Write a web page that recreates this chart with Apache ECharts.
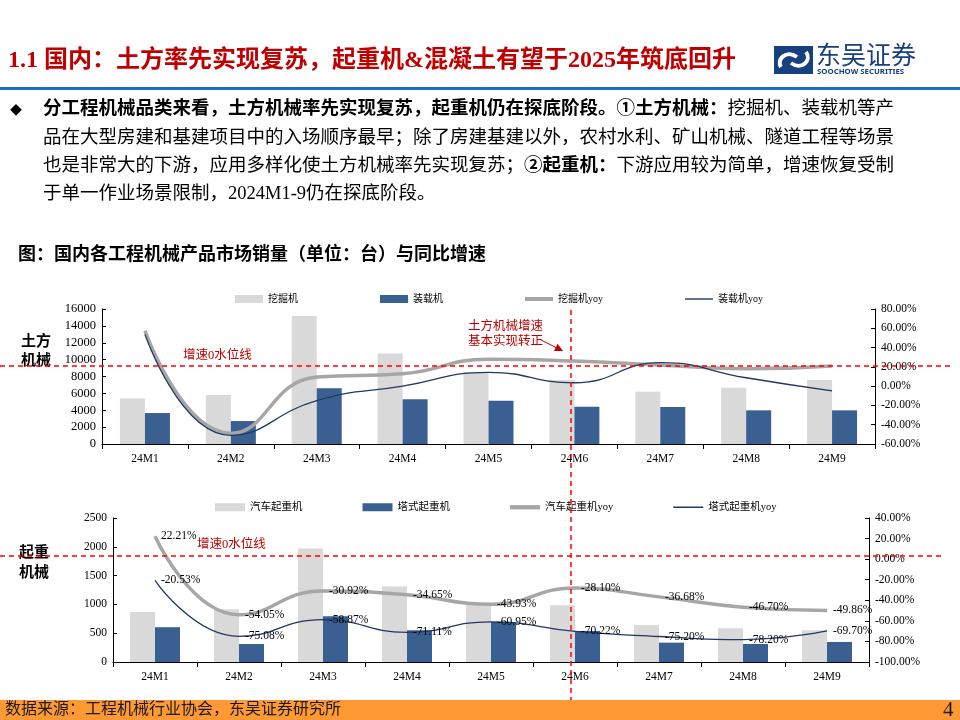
<!DOCTYPE html>
<html>
<head>
<meta charset="utf-8">
<script src="https://cdn.jsdelivr.net/npm/echarts@6/dist/echarts.min.js"></script>
<style>
html,body{margin:0;padding:0;background:#fff;}
#main{width:960px;height:720px;}
</style>
</head>
<body>
<div id="main"></div>
<script>
// ---- data ----
const categories = ['24M1','24M2','24M3','24M4','24M5','24M6','24M7','24M8','24M9'];
const excavator = [5396, 5796, 15170, 10730, 8540, 7583, 6200, 6660, 7584];
const loader = [3670, 2720, 6600, 5300, 5130, 4420, 4390, 3990, 3990];
const excavatorYoy = [57.6, -49.0, 9.5, 12.8, 28.0, 26.0, 22.0, 18.0, 21.0];
const loaderYoy = [53.7, -51.0, -15.0, 0.0, 14.3, 3.5, 24.3, 8.7, -5.0];
const truckCrane = [870, 917, 1971, 1310, 1000, 986, 644, 586, 551];
const towerCrane = [604, 313, 795, 551, 696, 539, 336, 313, 348];
const truckCraneYoy = [22.21, -54.05, -30.92, -34.65, -43.93, -28.10, -36.68, -46.70, -49.86];
const towerCraneYoy = [-20.53, -75.08, -58.87, -71.11, -60.95, -70.22, -75.20, -78.20, -69.70];
const legendTop = ['挖掘机','装载机','挖掘机yoy','装载机yoy'];
const legendBottom = ['汽车起重机','塔式起重机','汽车起重机yoy','塔式起重机yoy'];

const FF = "'Liberation Serif','Times New Roman','Noto Sans CJK SC',serif";
const GRAY = '#D9D9D9', BLUE = '#3A6091', LGRAY = '#A6A6A6', NAVY = '#1F3864', RED = '#FF0000', DRED = '#C00000';
const pct = v => v.toFixed(2) + '%';
const plain = v => String(v);
const THICK_ICON = 'path://M0,0H28V4H0Z';
const THIN_ICON = 'path://M0,0H28V1.4H0Z';

const chart = echarts.init(document.getElementById('main'), null, {renderer:'canvas'});

const axisLineBlack = {show:true, lineStyle:{color:'#000', width:1}};
function valAxis(gridIndex, min, max, interval, pos, fmt, fs){
  return {
    type:'value', gridIndex, min, max, interval, position:pos,
    axisLine: axisLineBlack,
    axisTick:{show:true, inside:true, length:4, lineStyle:{color:'#000'}},
    splitLine:{show:false},
    axisLabel:{color:'#000', fontFamily:FF, fontSize:fs, margin:6, formatter:fmt}
  };
}
function catAxis(gridIndex){
  return {
    type:'category', gridIndex, data:categories, boundaryGap:true,
    axisLine: axisLineBlack,
    axisTick:{show:true, length:5, lineStyle:{color:'#000'}},
    axisLabel:{color:'#000', fontFamily:FF, fontSize:11.5, margin:9}
  };
}
function labelCfg(){
  return {show:true, position:'right', distance:6, color:'#000', fontFamily:FF, fontSize:11.5, formatter:p=>pct(p.value)};
}
function legendData(names){
  return [
    {name:names[0], icon:'rect'},
    {name:names[1], icon:'rect'},
    {name:names[2], icon:THICK_ICON},
    {name:names[3], icon:THIN_ICON}
  ];
}

const dashed = {stroke:RED, lineWidth:1.5, lineDash:[5,4]};

const option = {
  animation:false,
  backgroundColor:'#fff',
  grid:[
    {left:102, right:85, top:309, height:135},
    {left:113, right:91, top:518, height:144}
  ],
  legend:[
    {data:legendData(legendTop), left:230, top:289, itemWidth:28, itemHeight:8, itemGap:82, symbolKeepAspect:true,
     textStyle:{fontFamily:FF, fontSize:10, color:'#000'}},
    {data:legendData(legendBottom), left:210, top:497, itemWidth:30, itemHeight:8, itemGap:60, symbolKeepAspect:true,
     textStyle:{fontFamily:FF, fontSize:10.5, color:'#000'}}
  ],
  xAxis:[catAxis(0), catAxis(1)],
  yAxis:[
    valAxis(0, 0, 16000, 2000, 'left', plain, 12.5),
    valAxis(0, -60, 80, 20, 'right', pct, 11.5),
    valAxis(1, 0, 2500, 500, 'left', plain, 11.5),
    valAxis(1, -100, 40, 20, 'right', pct, 11.5)
  ],
  series:[
    {name:'挖掘机', type:'bar', xAxisIndex:0, yAxisIndex:0, data:excavator, barWidth:25, barGap:'0%', itemStyle:{color:GRAY}},
    {name:'装载机', type:'bar', xAxisIndex:0, yAxisIndex:0, data:loader, barWidth:25, barGap:'0%', itemStyle:{color:BLUE}},
    {name:'挖掘机yoy', type:'line', xAxisIndex:0, yAxisIndex:1, data:excavatorYoy, smooth:0.5, symbol:'none', lineStyle:{color:LGRAY, width:3.5}, itemStyle:{color:LGRAY}, z:5},
    {name:'装载机yoy', type:'line', xAxisIndex:0, yAxisIndex:1, data:loaderYoy, smooth:0.5, symbol:'none', lineStyle:{color:NAVY, width:1.3}, itemStyle:{color:NAVY}, z:6},
    {name:'汽车起重机', type:'bar', xAxisIndex:1, yAxisIndex:2, data:truckCrane, barWidth:25, barGap:'0%', itemStyle:{color:GRAY}},
    {name:'塔式起重机', type:'bar', xAxisIndex:1, yAxisIndex:2, data:towerCrane, barWidth:25, barGap:'0%', itemStyle:{color:BLUE}},
    {name:'汽车起重机yoy', type:'line', xAxisIndex:1, yAxisIndex:3, data:truckCraneYoy, smooth:0.5, symbol:'circle', symbolSize:0, showSymbol:true, lineStyle:{color:LGRAY, width:3.5}, itemStyle:{color:LGRAY}, label:labelCfg(), z:5},
    {name:'塔式起重机yoy', type:'line', xAxisIndex:1, yAxisIndex:3, data:towerCraneYoy, smooth:0.5, symbol:'circle', symbolSize:0, showSymbol:true, lineStyle:{color:NAVY, width:1.3}, itemStyle:{color:NAVY}, label:labelCfg(), z:6}
  ],
  graphic:[
    // title
    {type:'text', x:8, y:61, style:{text:'1.1 国内：土方率先实现复苏，起重机&混凝土有望于2025年筑底回升', fill:DRED, font:"bold 24px "+FF, textVerticalAlign:'middle'}},
    // logo
    {type:'rect', shape:{x:774, y:46, width:39, height:28}, style:{fill:'#17407F'}},
    {type:'bezierCurve', shape:{x1:781, y1:67, cpx1:776, cpy1:60, cpx2:786, cpy2:49, x2:797, y2:57}, style:{stroke:'#fff', lineWidth:4, fill:null}},
    {type:'bezierCurve', shape:{x1:791, y1:63, cpx1:802, cpy1:71, cpx2:812, cpy2:60, x2:806, y2:52}, style:{stroke:'#fff', lineWidth:4, fill:null}},
    {type:'text', x:816, y:54, style:{text:'东吴证券', fill:'#17407F', font:"25px 'Noto Sans CJK SC',sans-serif", textVerticalAlign:'middle'}},
    {type:'text', x:817, y:71.5, style:{text:'SOOCHOW SECURITIES', fill:'#17407F', font:"bold 7.8px 'Noto Sans',sans-serif", textVerticalAlign:'middle'}},
    {type:'rect', shape:{x:0, y:87, width:960, height:3}, style:{fill:'#1F6FBF'}},
    // body
    {type:'text', x:10, y:110, style:{text:'◆', fill:'#000', font:"12px 'Noto Sans CJK SC',sans-serif", textVerticalAlign:'middle'}},
    {type:'text', x:43, y:109, style:{text:'{b|分工程机械品类来看，土方机械率先实现复苏，起重机仍在探底阶段。①土方机械：}{n|挖掘机、装载机等产}', textVerticalAlign:'middle',
      rich:{b:{font:"bold 18.5px "+FF, fill:'#000'}, n:{font:"18.5px "+FF, fill:'#000'}}}},
    {type:'text', x:43, y:138, style:{text:'品在大型房建和基建项目中的入场顺序最早；除了房建基建以外，农村水利、矿山机械、隧道工程等场景', fill:'#000', font:"18.5px "+FF, textVerticalAlign:'middle'}},
    {type:'text', x:43, y:166, style:{text:'{n|也是非常大的下游，应用多样化使土方机械率先实现复苏；}{b|②起重机：}{n|下游应用较为简单，增速恢复受制}', textVerticalAlign:'middle',
      rich:{b:{font:"bold 18.5px "+FF, fill:'#000'}, n:{font:"18.5px "+FF, fill:'#000'}}}},
    {type:'text', x:43, y:194, style:{text:'于单一作业场景限制，2024M1-9仍在探底阶段。', fill:'#000', font:"18.5px "+FF, textVerticalAlign:'middle'}},
    // caption
    {type:'text', x:18, y:255, style:{text:'图：国内各工程机械产品市场销量（单位：台）与同比增速', fill:'#000', font:"bold 18px "+FF, textVerticalAlign:'middle'}},
    // side labels
    {type:'text', x:36, y:352, style:{text:'土方\n机械', fill:'#000', font:"bold 15px "+FF, lineHeight:19, textAlign:'center', textVerticalAlign:'middle'}},
    {type:'text', x:34, y:563, style:{text:'起重\n机械', fill:'#000', font:"bold 15px "+FF, lineHeight:20, textAlign:'center', textVerticalAlign:'middle'}},
    // dashed reference lines
    {type:'line', shape:{x1:0, y1:366, x2:950, y2:366}, style:dashed, z:50},
    {type:'line', shape:{x1:0, y1:556, x2:941, y2:556}, style:dashed, z:50},
    {type:'line', shape:{x1:571, y1:310, x2:571, y2:700}, style:dashed, z:50},
    {type:'text', x:183, y:356, style:{text:'增速0水位线', fill:DRED, font:"12.5px "+FF, textVerticalAlign:'middle'}, z:51},
    {type:'text', x:197, y:545, style:{text:'增速0水位线', fill:DRED, font:"12.5px "+FF, textVerticalAlign:'middle'}, z:51},
    {type:'text', x:468, y:334, style:{text:'土方机械增速\n基本实现转正', fill:DRED, font:"12.5px "+FF, lineHeight:15, textVerticalAlign:'middle'}, z:51},
    {type:'line', shape:{x1:541, y1:340, x2:556, y2:347.5}, style:{stroke:DRED, lineWidth:1}, z:51},
    {type:'polygon', shape:{points:[[563,351],[554,351],[557.6,343.8]]}, style:{fill:DRED}, z:51},
    // footer
    {type:'rect', shape:{x:0, y:700, width:960, height:20}, style:{fill:'#FF9933'}},
    {type:'text', x:5, y:710, style:{text:'数据来源：工程机械行业协会，东吴证券研究所', fill:'#1a1a1a', font:"16px "+FF, textVerticalAlign:'middle'}},
    {type:'text', x:943, y:710, style:{text:'4', fill:'#1a1a1a', font:"21px "+FF, textVerticalAlign:'middle'}}
  ]
};
chart.setOption(option);
</script>
</body>
</html>
